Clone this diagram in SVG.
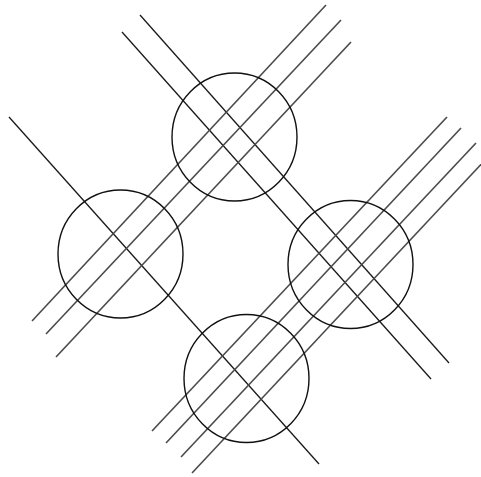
<svg xmlns="http://www.w3.org/2000/svg" width="481" height="477" viewBox="0 0 481 477">
<style>
.c{fill:none;stroke:#111;stroke-width:1.4}
.d{fill:none;stroke:#1a1a1a;stroke-width:1.3}
.g{fill:none;stroke:#4a4a4a;stroke-width:1.6}
</style>
<rect width="481" height="477" fill="#fff"/>
<g id="lines">
<line class="d" x1="9" y1="117" x2="319" y2="464"/>
<line class="d" x1="122" y1="32" x2="431" y2="379"/>
<line class="d" x1="140" y1="15" x2="449" y2="363"/>
<line class="g" x1="326" y1="5" x2="32" y2="321"/>
<line class="g" x1="341" y1="20" x2="46" y2="334"/>
<line class="g" x1="351" y1="42" x2="56" y2="357"/>
<line class="g" x1="447" y1="117" x2="152" y2="431"/>
<line class="g" x1="461" y1="128" x2="166" y2="443"/>
<line class="g" x1="476" y1="143" x2="181" y2="457"/>
<line class="g" x1="487" y1="158" x2="192" y2="473"/>
</g>
<g id="circle-top"><ellipse class="c" cx="234.5" cy="137" rx="62.5" ry="64"/></g>
<g id="circle-left"><ellipse class="c" cx="120.5" cy="254" rx="62.5" ry="64"/></g>
<g id="circle-right"><ellipse class="c" cx="350.5" cy="264.5" rx="62.5" ry="64"/></g>
<g id="circle-bottom"><ellipse class="c" cx="246.5" cy="378.5" rx="62.5" ry="64"/></g>
</svg>
